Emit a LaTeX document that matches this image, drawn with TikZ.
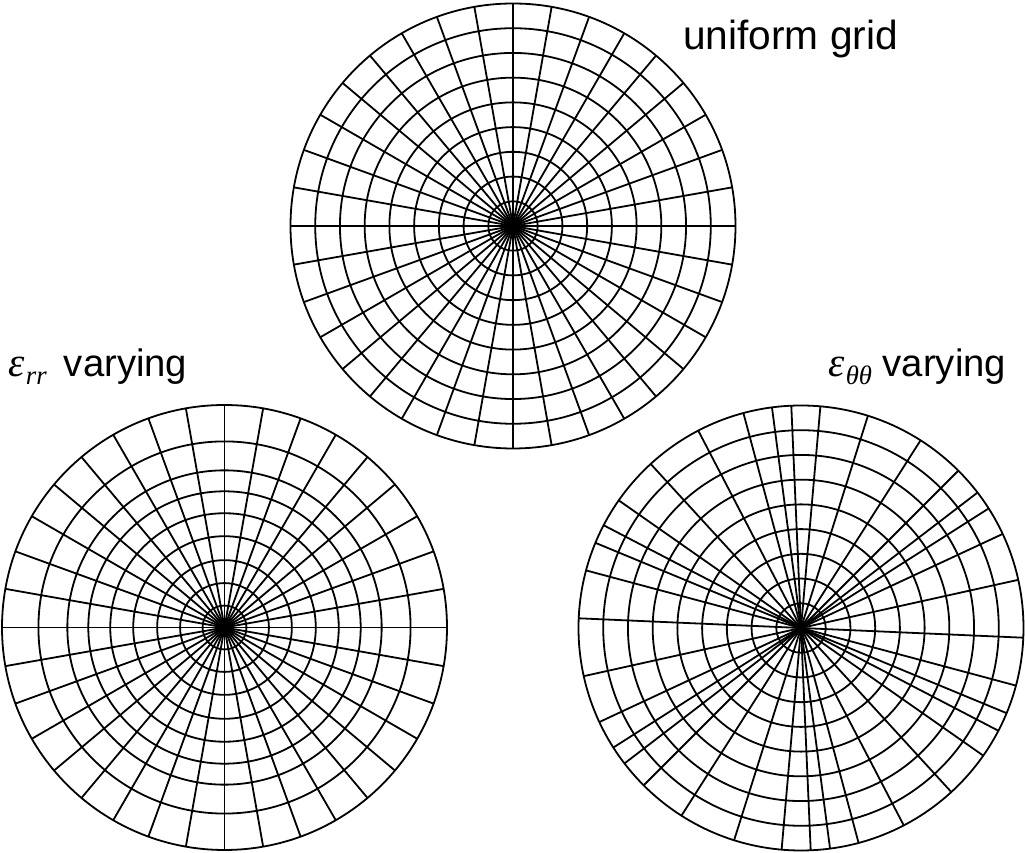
\documentclass[tikz,border=0pt]{standalone}
\usepackage{fontspec}
\setmainfont{Liberation Sans}
\newfontfamily\seriffam{Liberation Serif}
\newcommand{\epsvar}[1]{{\seriffam\itshape\fontsize{31}{34}\selectfont ε}\kern1pt\raisebox{-6pt}{\seriffam\itshape\fontsize{20}{22}\selectfont #1}}
\begin{document}
\begin{tikzpicture}[x=0.75pt,y=0.75pt,
  gridline/.style={line width=1.35pt, black},
  lab/.style={anchor=base west, inner sep=0pt, font=\fontsize{28.7}{34}\selectfont}]
\useasboundingbox (0,0) rectangle (1025,853);
% uniform grid
\begin{scope}[shift={(513,627)}]
  \foreach \k in {1,...,9} \draw[gridline] (0,0) circle[radius=\k*222.5/9];
  \foreach \a in {0,10,...,350} \draw[gridline] (0,0) -- (\a:222.5);
\end{scope}
% eps_rr varying
\begin{scope}[shift={(224.5,225.5)}]
  \foreach \f in {0.0987,0.1996,0.3027,0.4103,0.5135,0.6121,0.7063,0.8363,1}
    \draw[gridline] (0,0) circle[radius=\f*222.5];
  \foreach \a in {0,10,...,350} \draw[gridline] (0,0) -- (\a:222.5);
\end{scope}
% eps_thetatheta varying
\begin{scope}[shift={(801,225)}]
  \foreach \k in {1,...,9} \draw[gridline] (0,0) circle[radius=\k*222.5/9];
  \foreach \a in {0,10,...,350} {
    \pgfmathsetmacro\b{\a+5*sin(6*\a-30)}
    \draw[gridline] (0,0) -- (\b:222.5);
  }
\end{scope}
\node[lab, font=\fontsize{30.5}{36}\selectfont] (tu) at (683,803) {uniform grid};
\node[lab] (tr) at (8,476) {\epsvar{rr}\kern5pt{} varying};
\node[lab] (tt) at (828,476) {\epsvar{θθ} varying};
\end{tikzpicture}
\end{document}
